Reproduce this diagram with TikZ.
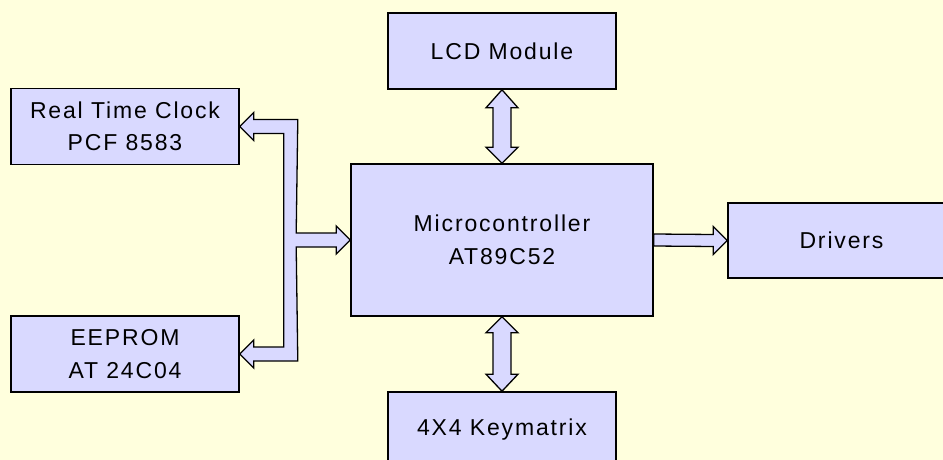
\documentclass[tikz,border=0pt]{standalone}
\usepackage{fontspec}
\setmainfont{Liberation Sans}[LetterSpace=8]
\usepackage{tikz}
\usetikzlibrary{calc}
\definecolor{bgyellow}{RGB}{255,255,221}
\definecolor{boxblue}{RGB}{217,217,255}

\begin{document}
\begin{tikzpicture}[x=1pt, y=-1pt,
				block/.style={draw=black, line width=1.6pt, fill=boxblue, align=center,
					minimum width=228pt, minimum height=76pt, inner sep=0pt,
					font=\fontsize{23}{32.5}\selectfont},
				bus/.style={draw=black, line width=1.3pt, fill=boxblue, line join=miter}]
				\useasboundingbox (0,0) rectangle (943,460);
				\clip (0,0) rectangle (943,460);
				\fill[bgyellow] (0,0) rectangle (943,460);
				% blocks
				\node at (125,126.5) (rtc) [block] {Real Time Clock\\PCF 8583};
				\node at (125,354) (eeprom) [block] {EEPROM\\AT 24C04};
				\node at (502,240) (mcu) [block, minimum width=302pt, minimum height=152pt] {Microcontroller\\AT89C52};
				\node at (502,51) (lcd) [block] {LCD Module};
				\node at (502,430) (key) [block] {4X4 Keymatrix};
				\node at (841.5,240.5) (drv) [block, minimum width=227pt, minimum height=75pt] {Drivers};
				% left bus to rtc, eeprom and mcu
				\draw[bus] (rtc.east) -- ++(14,-14) -- ++(0,7) -- ++(44,0)
					-- ($(mcu.west)+(-54,-7)$) -- ++(40,0) -- ++(0,-7) -- (mcu.west)
					-- ++(-14,14) -- ++(0,-7) -- ++(-40,0)
					-- ($(eeprom.east)+(58,7)$) -- ++(-44,0) -- ++(0,7) -- (eeprom.east)
					-- ++(14,-14) -- ++(0,7) -- ++(30,0)
					-- ($(rtc.east)+(44,7)$) -- ++(-30,0) -- ++(0,7) -- cycle;
				% lcd <-> mcu
				\draw[bus] (lcd.south) -- ++(16,18) -- ++(-7,0) -- ($(mcu.north)+(9,-16)$) -- ++(7,0)
					-- (mcu.north) -- ++(-16,-16) -- ++(7,0) -- ($(lcd.south)+(-9,18)$) -- ++(-7,0) -- cycle;
				% mcu <-> keymatrix
				\draw[bus] (mcu.south) -- ++(16,16) -- ++(-7,0) -- ($(key.north)+(9,-17)$) -- ++(7,0)
					-- (key.north) -- ++(-16,-17) -- ++(7,0) -- ($(mcu.south)+(-9,16)$) -- ++(-7,0) -- cycle;
				% mcu -> drivers
				\draw[bus] ($(mcu.east)+(0,-6)$) -- ($(drv.west)+(-14,-6)$) -- ++(0,-8) -- (drv.west)
					-- ++(-14,14) -- ++(0,-8) -- ($(mcu.east)+(0,6)$) -- cycle;
			\end{tikzpicture}
\end{document}
